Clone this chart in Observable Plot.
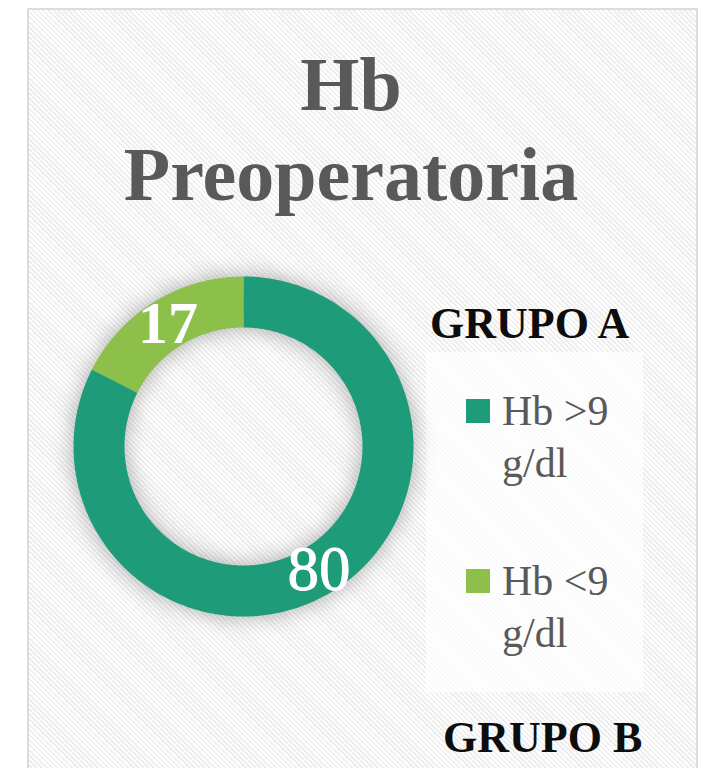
<!DOCTYPE html>
<html><head><meta charset="utf-8">
<script src="https://cdn.jsdelivr.net/npm/d3@7"></script>
<script src="https://cdn.jsdelivr.net/npm/@observablehq/plot@0.6"></script>
<style>
body{margin:0;width:705px;height:768px;overflow:hidden;background:#fff;font-family:"Liberation Serif","Times New Roman",serif;}
#frame{position:absolute;left:27px;top:8px;width:667px;height:820px;border:2px solid #dcdcdc;
 background:repeating-linear-gradient(45deg,#ffffff 0 1.8px,#eeeeee 1.8px 3.6px);}
.t{position:absolute;white-space:nowrap;line-height:1;}
#legendbox{position:absolute;left:426px;top:352px;width:217px;height:340px;background:rgba(255,255,255,0.7);}
#chart{position:absolute;left:63px;top:266px;}
.sw{position:absolute;width:24px;height:24px;}
</style></head>
<body>
<div id="frame"></div>
<div id="legendbox"></div>
<div id="chart"></div>
<script>
// ---- data ----
const title = ["Hb", "Preoperatoria"];
const categories = ["Hb >9 g/dl", "Hb <9 g/dl"];
const values = [80, 17];
const colors = ["#1e9b79", "#8cc04b"];
const legendLine1 = ["Hb >9", "Hb <9"];
const legendLine2 = ["g/dl", "g/dl"];
const groupTitles = ["GRUPO A", "GRUPO B"];

// ---- helpers ----
function place(text, x, baseline, size, weight, color, align) {
  const d = document.createElement("div");
  d.className = "t";
  d.textContent = text;
  d.style.fontSize = size + "px";
  d.style.fontWeight = weight;
  d.style.color = color;
  d.style.top = (baseline - 0.8375 * size) + "px";
  if (align === "center") { d.style.left = (x - 300) + "px"; d.style.width = "600px"; d.style.textAlign = "center"; }
  else d.style.left = x + "px";
  document.body.appendChild(d);
  return d;
}

// title
place(title[0], 351, 110, 76, "bold", "#595959", "center");
place(title[1], 351, 200, 76, "bold", "#595959", "center");

// group titles
place(groupTitles[0], 430, 339, 44, "bold", "#0d0d0d");
place(groupTitles[1], 443, 753, 44, "bold", "#0d0d0d");

// legend
const legendTops = [399, 569];
categories.forEach((c, i) => {
  const s = document.createElement("div");
  s.className = "sw";
  s.style.left = "466px";
  s.style.top = legendTops[i] + "px";
  s.style.background = colors[i];
  document.body.appendChild(s);
  place(legendLine1[i], 502, legendTops[i] + 26, 42, "normal", "#595959");
  place(legendLine2[i], 502, legendTops[i] + 78, 42, "normal", "#595959");
});

// ---- donut ----
const rows = categories.map((c, i) => ({cat: c, value: values[i]}));
const arcs = d3.pie().sort(null).value(d => d.value)(rows);
const inner = 0.7;
const ring = arcs.flatMap(p => {
  const n = 160, pts = [];
  for (let i = 0; i <= n; i++) {
    const a = p.startAngle + (p.endAngle - p.startAngle) * i / n;
    pts.push({cat: p.data.cat, x: Math.sin(a), y: Math.cos(a)});
  }
  for (let i = n; i >= 0; i--) {
    const a = p.startAngle + (p.endAngle - p.startAngle) * i / n;
    pts.push({cat: p.data.cat, x: inner * Math.sin(a), y: inner * Math.cos(a)});
  }
  return pts;
});
const mid = (1 + inner) / 2;
const labels = arcs.map(p => {
  const a = (p.startAngle + p.endAngle) / 2;
  return {cat: p.data.cat, value: p.data.value, x: mid * Math.sin(a), y: mid * Math.cos(a)};
});

const plot = Plot.plot({
  width: 360, height: 360, margin: 10,
  x: {domain: [-1, 1], axis: null},
  y: {domain: [-1, 1], axis: null},
  color: {domain: categories, range: colors},
  style: {background: "transparent", overflow: "visible"},
  marks: [
    Plot.line(ring, {x: "x", y: "y", z: "cat", fill: "cat", stroke: null, curve: "linear-closed"}),
    Plot.text(labels.filter(d => d.value < 50), {x: "x", y: "y", text: d => String(d.value), fill: "white", fontSize: 60, fontWeight: "bold", fontFamily: "Liberation Serif"}),
    Plot.text(labels.filter(d => d.value >= 50), {x: "x", y: "y", text: d => String(d.value), fill: "white", stroke: "white", strokeWidth: 0.9, fontSize: 63, fontWeight: "normal", fontFamily: "Liberation Serif"})
  ]
});
plot.style.overflow = "visible";
const g = plot.querySelector("g[aria-label='line']");
if (g) g.style.filter = "drop-shadow(0 0 11px rgba(0,0,0,0.32))";
document.getElementById("chart").appendChild(plot);
</script>
</body></html>
